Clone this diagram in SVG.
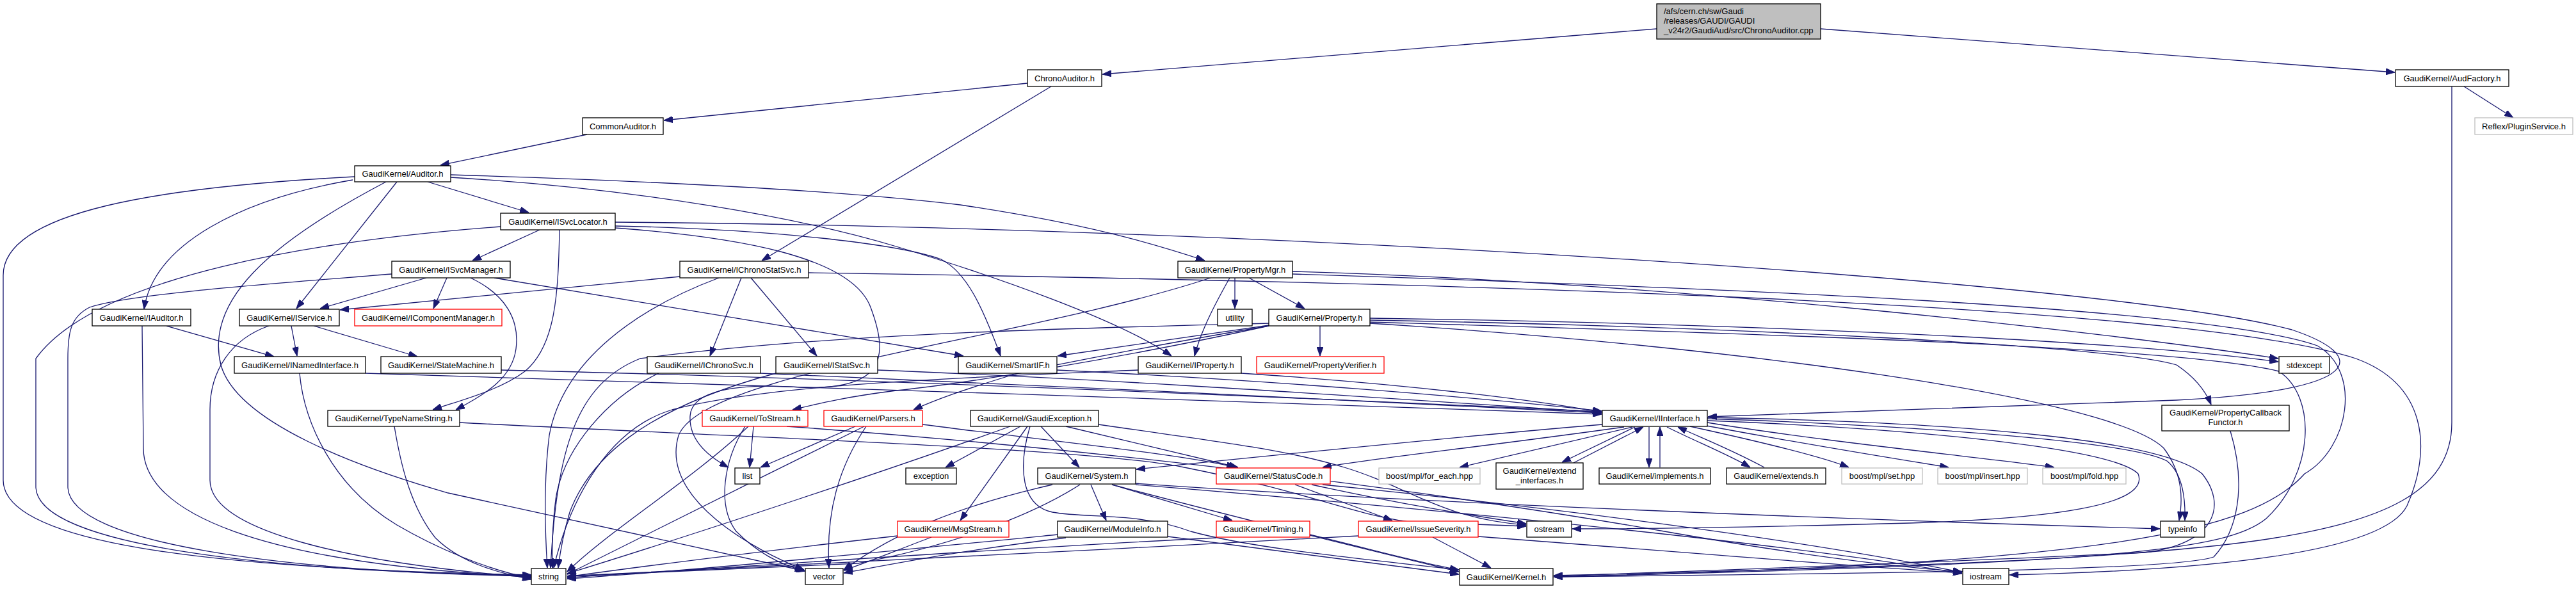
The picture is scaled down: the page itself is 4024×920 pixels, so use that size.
<svg xmlns="http://www.w3.org/2000/svg" width="4024" height="920" viewBox="0 0 4024 920">
<style>
.e{fill:none;stroke:#191970;stroke-width:1.3;marker-end:url(#a)}
.n rect{fill:#fff;stroke:#000;stroke-width:1.3}
.n.r rect{stroke:#ff0000}
.n.g rect{stroke:#bfbfbf}
.n.root rect{fill:#bfbfbf}
text{font-family:"Liberation Sans",Arial,sans-serif;font-size:13px;fill:#000;text-anchor:middle}
.n.root text{text-anchor:start}
</style>
<defs>
<marker id="a" markerWidth="14" markerHeight="10" refX="14" refY="5" orient="auto" markerUnits="userSpaceOnUse"><path d="M0,0 L14,5 L0,10 z" fill="#191970" stroke="#191970" stroke-width="1"/></marker>
</defs>
<rect x="0" y="0" width="4024" height="920" fill="#fff"/>
<g id="edges">
<path class="e" d="M2588,45 L1722,116"/>
<path class="e" d="M2844,45 L3741,113"/>
<path class="e" d="M1605,130 L1037,188"/>
<path class="e" d="M1642,135 L1190,407"/>
<path class="e" d="M3849,135 L3926,184"/>
<path class="e" d="M3830,135 L3830,660 C3830,770 3720,815 3536,843 C3300,878 2800,890 2427,899"/>
<path class="e" d="M917,210 L688,258"/>
<path class="e" d="M554,276 C250,292 5,330 5,430 L5,750 C5,845 300,888 830,898"/>
<path class="e" d="M551,281 C380,310 240,380 225,483"/>
<path class="e" d="M603,284 C420,380 320,470 345,570 C370,660 560,730 700,770 L1258,892"/>
<path class="e" d="M620,284 L463,482"/>
<path class="e" d="M668,284 L826,332"/>
<path class="e" d="M704,273 C1000,282 1300,296 1500,320 C1700,350 1800,380 1882,407"/>
<path class="e" d="M704,277 C1000,295 1250,340 1400,385 C1550,430 1750,500 1830,556"/>
<path class="e" d="M843,359 L738,407"/>
<path class="e" d="M782,354 C500,375 150,430 56,560 L56,760 C56,850 400,892 830,899"/>
<path class="e" d="M874,359 C872,460 868,540 820,580 C780,610 720,625 676,640"/>
<path class="e" d="M961,353 C1200,358 1400,380 1470,405 C1510,425 1535,480 1563,556"/>
<path class="e" d="M961,347 C2000,355 3300,440 3580,515 C3700,555 3700,610 3400,625 L2668,651"/>
<path class="e" d="M961,356 C1150,370 1330,400 1360,480 C1390,560 1380,610 1250,605 C1150,598 1080,610 1078,650 C1076,690 1110,715 1138,730"/>
<path class="e" d="M666,434 L500,482"/>
<path class="e" d="M698,434 L677,482"/>
<path class="e" d="M612,428 C400,445 200,460 140,480 C110,495 106,520 106,560 L106,760 C106,850 450,893 830,900"/>
<path class="e" d="M735,434 C790,460 812,500 806,545 C800,590 760,615 712,640"/>
<path class="e" d="M772,434 L1505,556"/>
<path class="e" d="M1062,432 L531,484"/>
<path class="e" d="M1123,434 C1000,480 880,560 858,680 C848,760 852,840 855,887"/>
<path class="e" d="M1158,434 L1109,556"/>
<path class="e" d="M1173,434 L1276,556"/>
<path class="e" d="M1263,426 C2200,440 3400,470 3680,560 C3790,600 3800,700 3760,790 C3720,870 3400,892 3139,898"/>
<path class="e" d="M1951,434 L2038,482"/>
<path class="e" d="M1929,434 L1929,482"/>
<path class="e" d="M1921,434 C1895,480 1875,520 1866,556"/>
<path class="e" d="M1891,434 C1600,530 1100,580 1060,680 C1030,780 1180,860 1256,890"/>
<path class="e" d="M2019,424 C2600,440 3300,520 3559,560"/>
<path class="e" d="M2019,428 C2700,450 3450,480 3620,540 C3690,580 3670,700 3600,740 C3520,830 3300,880 2427,901"/>
<path class="e" d="M260,509 L428,557"/>
<path class="e" d="M222,509 L224,700 C224,800 400,880 830,901"/>
<path class="e" d="M455,509 L464,556"/>
<path class="e" d="M490,509 L652,557"/>
<path class="e" d="M420,509 C360,530 328,580 328,640 L328,750 C328,830 550,880 830,902"/>
<path class="e" d="M468,583 C475,660 520,760 620,820 C680,855 760,890 830,903"/>
<path class="e" d="M571,583 C1000,600 2000,625 2502,647"/>
<path class="e" d="M783,578 C1300,590 2000,620 2502,643"/>
<path class="e" d="M616,666 C625,720 640,790 680,840 C720,880 780,895 830,905"/>
<path class="e" d="M718,660 C1200,685 1700,700 1850,730 C2050,770 2100,800 2200,815 L2384,822"/>
<path class="e" d="M1029,583 C950,620 880,700 868,780 C862,830 862,860 863,887"/>
<path class="e" d="M1188,583 C1600,600 2100,625 2502,645"/>
<path class="e" d="M1212,583 C1000,640 920,720 890,800 C878,840 874,870 872,887"/>
<path class="e" d="M1371,578 C1800,595 2200,625 2502,644"/>
<path class="e" d="M1651,578 C2000,595 2300,620 2502,642"/>
<path class="e" d="M1939,583 C2200,600 2400,625 2502,644"/>
<path class="e" d="M1778,578 C1500,590 1200,600 1050,640 C950,670 890,780 865,887"/>
<path class="e" d="M2062,509 L2062,556"/>
<path class="e" d="M1982,508 L1652,556"/>
<path class="e" d="M1982,505 C1700,512 1300,520 1000,560 C900,600 870,700 860,887"/>
<path class="e" d="M1982,509 C1800,540 1700,560 1600,580 C1500,610 1460,625 1427,640"/>
<path class="e" d="M1982,509 C1750,560 1500,600 1400,610 C1320,620 1280,630 1238,640"/>
<path class="e" d="M2140,497 C2700,505 3300,530 3559,565"/>
<path class="e" d="M2140,500 C2700,510 3300,540 3400,570 C3430,590 3445,610 3454,632"/>
<path class="e" d="M2140,503 C2700,520 3400,540 3560,580 C3620,620 3615,740 3540,810 C3480,860 3300,880 2427,901"/>
<path class="e" d="M2140,505 C2700,540 3300,620 3380,700 C3410,740 3410,780 3404,813"/>
<path class="e" d="M3484,673 C3510,760 3495,830 3458,870 C3400,890 3000,895 2427,901"/>
<path class="e" d="M1177,666 L1171,730"/>
<path class="e" d="M1169,666 C1080,750 950,830 886,893"/>
<path class="e" d="M1164,666 C1130,720 1120,790 1150,830 C1190,870 1230,885 1256,891"/>
<path class="e" d="M1229,666 C1700,700 2200,760 2600,830 C2800,865 2950,885 3065,893"/>
<path class="e" d="M1336,666 L1188,730"/>
<path class="e" d="M1350,666 C1200,740 1000,840 886,897"/>
<path class="e" d="M1353,666 C1310,730 1290,800 1295,887"/>
<path class="e" d="M1441,663 C1650,690 1850,710 1930,730"/>
<path class="e" d="M1594,666 L1477,730"/>
<path class="e" d="M1626,666 L1686,730"/>
<path class="e" d="M1605,666 L1500,813"/>
<path class="e" d="M1665,666 L1934,730"/>
<path class="e" d="M1578,666 C1400,730 1100,830 886,896"/>
<path class="e" d="M1609,666 C1590,730 1595,790 1644,800 C1700,810 1780,800 1860,830 C1950,855 2100,870 2279,890"/>
<path class="e" d="M1716,663 C1900,690 2000,700 2100,730 C2200,760 2250,810 2384,820"/>
<path class="e" d="M1704,757 L1728,813"/>
<path class="e" d="M1737,757 L1925,813"/>
<path class="e" d="M1687,757 C1620,800 1500,850 1340,880 L886,900"/>
<path class="e" d="M1644,757 C1500,790 1400,830 1318,890"/>
<path class="e" d="M1774,755 C2200,785 2900,812 3374,826"/>
<path class="e" d="M1774,757 C2300,800 2800,850 3065,896"/>
<path class="e" d="M1737,757 C1900,800 2100,850 2279,893"/>
<path class="e" d="M2023,757 L2175,813"/>
<path class="e" d="M2049,757 C2200,790 2300,805 2384,818"/>
<path class="e" d="M2066,757 C2400,790 2800,840 3065,894"/>
<path class="e" d="M2238,839 L2329,887"/>
<path class="e" d="M2122,837 C1700,860 1200,885 886,900"/>
<path class="e" d="M2309,838 C2600,860 2900,885 3065,895"/>
<path class="e" d="M2046,835 C2150,860 2220,880 2279,890"/>
<path class="e" d="M1900,840 C1500,860 1100,890 886,902"/>
<path class="e" d="M1652,835 C1400,860 1100,890 886,904"/>
<path class="e" d="M1665,840 C1500,860 1400,880 1318,895"/>
<path class="e" d="M1824,838 C2000,860 2150,880 2279,897"/>
<path class="e" d="M1402,837 C1200,860 1000,885 886,901"/>
<path class="e" d="M1455,839 C1400,860 1350,880 1318,891"/>
<path class="e" d="M2503,663 C2300,680 2000,710 1775,733"/>
<path class="e" d="M2537,667 C2300,700 2150,715 2066,730"/>
<path class="e" d="M2550,667 L2280,730"/>
<path class="e" d="M2554,667 L2440,722"/>
<path class="e" d="M2458,723 L2567,667"/>
<path class="e" d="M2576,667 L2576,730"/>
<path class="e" d="M2593,730 L2593,667"/>
<path class="e" d="M2604,667 C2650,690 2700,710 2734,730"/>
<path class="e" d="M2756,730 C2700,700 2660,685 2621,667"/>
<path class="e" d="M2640,666 C2750,690 2850,715 2888,730"/>
<path class="e" d="M2660,664 C2800,690 2950,715 3044,730"/>
<path class="e" d="M2667,660 C2850,690 3100,715 3209,730"/>
<path class="e" d="M2667,657 C3000,670 3300,700 3340,740 C3360,790 3200,810 2984,817 C2800,822 2600,826 2456,826"/>
<path class="e" d="M2667,654 C3000,665 3330,690 3385,720 C3410,740 3414,780 3413,813"/>
<path class="e" d="M2667,652 C3100,660 3380,690 3440,740 C3480,790 3460,850 3350,863 C3000,880 2700,890 2427,900"/>
</g>
<g id="n_root" class="n root"><rect x="2588" y="6" width="256" height="55"/><text x="2599" y="22">/afs/cern.ch/sw/Gaudi</text><text x="2599" y="37">/releases/GAUDI/GAUDI</text><text x="2599" y="52">_v24r2/GaudiAud/src/ChronoAuditor.cpp</text></g>
<g id="n_ChronoAuditor" class="n"><rect x="1605" y="109" width="116" height="26"/><text x="1663" y="126.5">ChronoAuditor.h</text></g>
<g id="n_AudFactory" class="n"><rect x="3742" y="109" width="177" height="26"/><text x="3830.5" y="126.5">GaudiKernel/AudFactory.h</text></g>
<g id="n_CommonAuditor" class="n"><rect x="910" y="184" width="126" height="26"/><text x="973" y="201.5">CommonAuditor.h</text></g>
<g id="n_Reflex" class="n g"><rect x="3866" y="184" width="153" height="26"/><text x="3942.5" y="201.5">Reflex/PluginService.h</text></g>
<g id="n_Auditor" class="n"><rect x="554" y="259" width="150" height="25"/><text x="629" y="276">GaudiKernel/Auditor.h</text></g>
<g id="n_ISvcLocator" class="n"><rect x="782" y="333" width="179" height="26"/><text x="871.5" y="350.5">GaudiKernel/ISvcLocator.h</text></g>
<g id="n_ISvcManager" class="n"><rect x="612" y="408" width="185" height="26"/><text x="704.5" y="425.5">GaudiKernel/ISvcManager.h</text></g>
<g id="n_IChronoStatSvc" class="n"><rect x="1062" y="408" width="201" height="26"/><text x="1162.5" y="425.5">GaudiKernel/IChronoStatSvc.h</text></g>
<g id="n_PropertyMgr" class="n"><rect x="1840" y="408" width="179" height="26"/><text x="1929.5" y="425.5">GaudiKernel/PropertyMgr.h</text></g>
<g id="n_IAuditor" class="n"><rect x="144" y="483" width="154" height="26"/><text x="221" y="500.5">GaudiKernel/IAuditor.h</text></g>
<g id="n_IService" class="n"><rect x="374" y="483" width="156" height="26"/><text x="452" y="500.5">GaudiKernel/IService.h</text></g>
<g id="n_IComponentManager" class="n r"><rect x="554" y="483" width="230" height="26"/><text x="669" y="500.5">GaudiKernel/IComponentManager.h</text></g>
<g id="n_utility" class="n"><rect x="1902" y="483" width="54" height="26"/><text x="1929" y="500.5">utility</text></g>
<g id="n_Property" class="n"><rect x="1982" y="483" width="158" height="26"/><text x="2061" y="500.5">GaudiKernel/Property.h</text></g>
<g id="n_INamedInterface" class="n"><rect x="366" y="557" width="205" height="26"/><text x="468.5" y="574.5">GaudiKernel/INamedInterface.h</text></g>
<g id="n_StateMachine" class="n"><rect x="595" y="557" width="188" height="26"/><text x="689" y="574.5">GaudiKernel/StateMachine.h</text></g>
<g id="n_IChronoSvc" class="n"><rect x="1011" y="557" width="177" height="26"/><text x="1099.5" y="574.5">GaudiKernel/IChronoSvc.h</text></g>
<g id="n_IStatSvc" class="n"><rect x="1212" y="557" width="159" height="26"/><text x="1291.5" y="574.5">GaudiKernel/IStatSvc.h</text></g>
<g id="n_SmartIF" class="n"><rect x="1497" y="557" width="154" height="26"/><text x="1574" y="574.5">GaudiKernel/SmartIF.h</text></g>
<g id="n_IProperty" class="n"><rect x="1778" y="557" width="161" height="26"/><text x="1858.5" y="574.5">GaudiKernel/IProperty.h</text></g>
<g id="n_PropertyVerifier" class="n r"><rect x="1963" y="557" width="199" height="26"/><text x="2062.5" y="574.5">GaudiKernel/PropertyVerifier.h</text></g>
<g id="n_stdexcept" class="n"><rect x="3560" y="557" width="79" height="26"/><text x="3599.5" y="574.5">stdexcept</text></g>
<g id="n_TypeNameString" class="n"><rect x="512" y="641" width="206" height="25"/><text x="615" y="658">GaudiKernel/TypeNameString.h</text></g>
<g id="n_ToStream" class="n r"><rect x="1097" y="641" width="165" height="25"/><text x="1179.5" y="658">GaudiKernel/ToStream.h</text></g>
<g id="n_Parsers" class="n r"><rect x="1287" y="641" width="154" height="25"/><text x="1364" y="658">GaudiKernel/Parsers.h</text></g>
<g id="n_GaudiException" class="n"><rect x="1516" y="641" width="200" height="25"/><text x="1616" y="658">GaudiKernel/GaudiException.h</text></g>
<g id="n_IInterface" class="n"><rect x="2503" y="641" width="164" height="25"/><text x="2585" y="658">GaudiKernel/IInterface.h</text></g>
<g id="n_PropertyCallbackFunctor" class="n"><rect x="3377" y="633" width="199" height="40"/><text x="3476.5" y="648.5">GaudiKernel/PropertyCallback</text><text x="3476.5" y="663.5">Functor.h</text></g>
<g id="n_list" class="n"><rect x="1148" y="731" width="39" height="25"/><text x="1167.5" y="748">list</text></g>
<g id="n_exception" class="n"><rect x="1415" y="731" width="79" height="25"/><text x="1454.5" y="748">exception</text></g>
<g id="n_System" class="n"><rect x="1621" y="731" width="153" height="25"/><text x="1697.5" y="748">GaudiKernel/System.h</text></g>
<g id="n_StatusCode" class="n r"><rect x="1900" y="731" width="178" height="25"/><text x="1989" y="748">GaudiKernel/StatusCode.h</text></g>
<g id="n_for_each" class="n g"><rect x="2154" y="731" width="158" height="25"/><text x="2233" y="748">boost/mpl/for_each.hpp</text></g>
<g id="n_extend_interfaces" class="n"><rect x="2337" y="723" width="136" height="41"/><text x="2405" y="739.5">GaudiKernel/extend</text><text x="2405" y="754.5">_interfaces.h</text></g>
<g id="n_implements" class="n"><rect x="2498" y="731" width="174" height="25"/><text x="2585" y="748">GaudiKernel/implements.h</text></g>
<g id="n_extends" class="n"><rect x="2697" y="731" width="155" height="25"/><text x="2774.5" y="748">GaudiKernel/extends.h</text></g>
<g id="n_set" class="n g"><rect x="2877" y="731" width="126" height="25"/><text x="2940" y="748">boost/mpl/set.hpp</text></g>
<g id="n_insert" class="n g"><rect x="3027" y="731" width="140" height="25"/><text x="3097" y="748">boost/mpl/insert.hpp</text></g>
<g id="n_fold" class="n g"><rect x="3191" y="731" width="130" height="25"/><text x="3256" y="748">boost/mpl/fold.hpp</text></g>
<g id="n_MsgStream" class="n r"><rect x="1402" y="814" width="174" height="25"/><text x="1489" y="831">GaudiKernel/MsgStream.h</text></g>
<g id="n_ModuleInfo" class="n"><rect x="1652" y="814" width="172" height="25"/><text x="1738" y="831">GaudiKernel/ModuleInfo.h</text></g>
<g id="n_Timing" class="n r"><rect x="1900" y="814" width="146" height="25"/><text x="1973" y="831">GaudiKernel/Timing.h</text></g>
<g id="n_IssueSeverity" class="n r"><rect x="2122" y="814" width="187" height="25"/><text x="2215.5" y="831">GaudiKernel/IssueSeverity.h</text></g>
<g id="n_ostream" class="n"><rect x="2385" y="814" width="70" height="25"/><text x="2420" y="831">ostream</text></g>
<g id="n_typeinfo" class="n"><rect x="3375" y="814" width="69" height="25"/><text x="3409.5" y="831">typeinfo</text></g>
<g id="n_string" class="n"><rect x="830" y="888" width="54" height="25"/><text x="857" y="905">string</text></g>
<g id="n_vector" class="n"><rect x="1258" y="888" width="59" height="25"/><text x="1287.5" y="905">vector</text></g>
<g id="n_Kernel" class="n"><rect x="2280" y="888" width="146" height="26"/><text x="2353" y="905.5">GaudiKernel/Kernel.h</text></g>
<g id="n_iostream" class="n"><rect x="3066" y="888" width="72" height="25"/><text x="3102" y="905">iostream</text></g>
</svg>
